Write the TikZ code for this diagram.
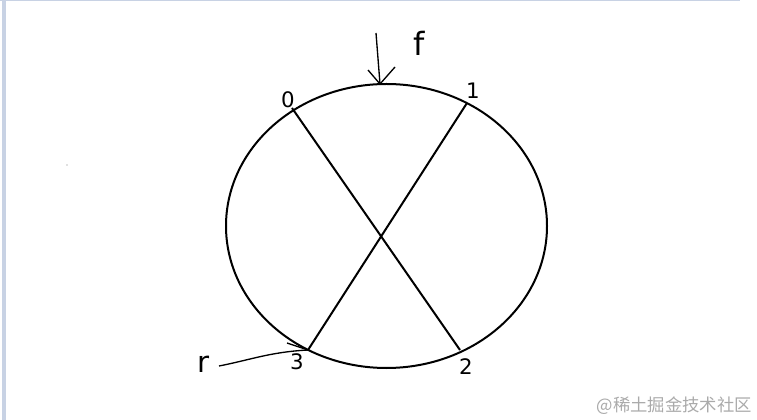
\documentclass[tikz,border=0pt]{standalone}
\usepackage{fontspec}
\setmainfont{DejaVu Sans}
\newfontfamily\cjk{Noto Sans CJK SC}
\begin{document}
\begin{tikzpicture}[x=0.75pt,y=-0.75pt,
  stroke/.style={line width=1.5pt,black},
  thin stroke/.style={line width=1pt,black},
  hand/.style={font=\fontsize{16}{16}\selectfont, inner sep=0pt},
  frame/.style={fill={rgb,255:red,200;green,210;blue,228}, draw=none}]
\useasboundingbox (0,0) rectangle (757,420);
\fill[white] (0,0) rectangle (757,420);
\fill[frame] (2,0) rectangle (6,420);
\fill[frame] (0,0) rectangle (740,1.5);
% circle
\draw[stroke] (386.5,226) ellipse [x radius=160.5, y radius=142];
\coordinate (p0) at (292,108);
\coordinate (p1) at (467,103);
\coordinate (p2) at (460,350);
\coordinate (p3) at (308,350);
\draw[stroke] (p0) -- (p2);
\draw[stroke] (p1) -- (p3);
% labels
\node[hand] (l0) at (288,100) {0};
\node[hand] (l1) at (473,91) {1};
\node[hand] (l2) at (466,367) {2};
\node[hand] (l3) at (297,362) {3};
\node[hand, font=\fontsize{24}{24}\selectfont] (lf) at (419,43) {f};
\node[hand, font=\fontsize{22}{22}\selectfont] (lr) at (204,364) {r};
% arrow f
\coordinate (fs) at (376,33);
\coordinate (fe) at (380,84);
\draw[thin stroke] (fs) -- (fe);
\draw[thin stroke] (368,70) -- (fe) -- (395,67);
% arrow r
\coordinate (rs) at (219,366);
\draw[thin stroke] (rs) .. controls (250,360) and (270,352) .. (p3);
\draw[thin stroke] (287,343) -- (p3);
% speck
\fill[gray] (67,165) circle (0.7);
% watermark
\node[font=\cjk\fontsize{13}{13}\selectfont, text={rgb,255:red,170;green,170;blue,170}, anchor=east, inner sep=0pt] (wm) at (752,406) {@稀土掘金技术社区};
\end{tikzpicture}
\end{document}
